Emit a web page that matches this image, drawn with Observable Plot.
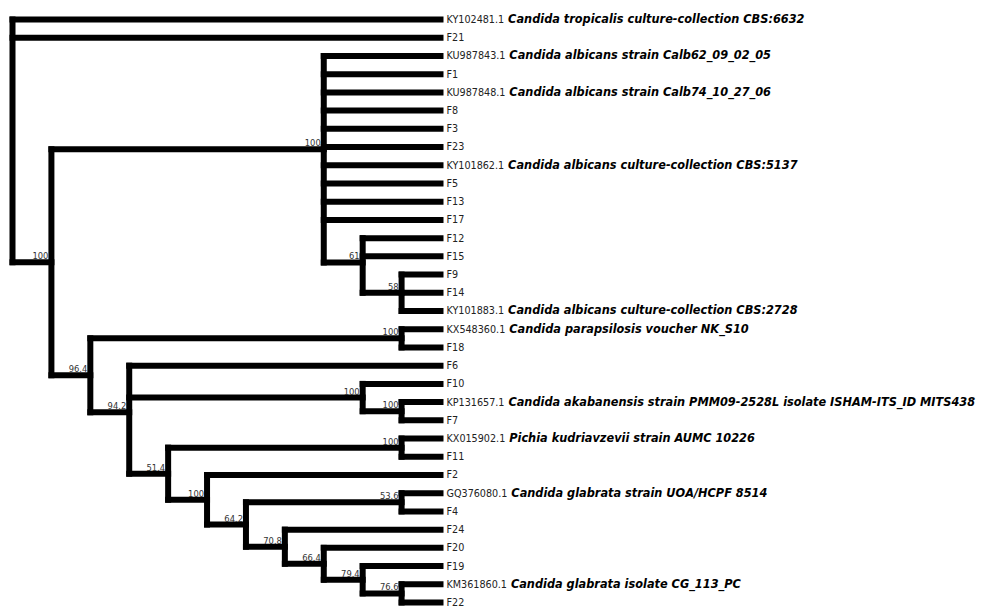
<!DOCTYPE html>
<html>
<head>
<meta charset="utf-8">
<script src="https://cdn.jsdelivr.net/npm/d3@7"></script>
<script src="https://cdn.jsdelivr.net/npm/@observablehq/plot@0.6"></script>
<style>
  html, body { margin: 0; padding: 0; background: #fff; }
  #chart svg { display: block; }
</style>
</head>
<body>
<div id="chart"></div>
<script>
// ---- Data ----
// Leaves in top-to-bottom order
const leafIds = ["KY102481.1","F21","KU987843.1","F1","KU987848.1","F8","F3","F23","KY101862.1","F5","F13","F17","F12","F15","F9","F14","KY101883.1","KX548360.1","F18","F6","F10","KP131657.1","F7","KX015902.1","F11","F2","GQ376080.1","F4","F24","F20","F19","KM361860.1","F22"];
const leafSpecies = ["Candida tropicalis culture-collection CBS:6632","","Candida albicans strain Calb62_09_02_05","","Candida albicans strain Calb74_10_27_06","","","","Candida albicans culture-collection CBS:5137","","","","","","","","Candida albicans culture-collection CBS:2728","Candida parapsilosis voucher NK_S10","","","","Candida akabanensis strain PMM09-2528L isolate ISHAM-ITS_ID MITS438","","Pichia kudriavzevii strain AUMC 10226","","","Candida glabrata strain UOA/HCPF 8514","","","","","Candida glabrata isolate CG_113_PC",""];
const leafParents = ["root","root","alb","alb","alb","alb","alb","alb","alb","alb","alb","alb","n61","n61","n58","n58","n58","np","np","n94","nf10","nkp","nkp","nk","nk","n100b","n53","n53","n70","n66","n79","n76","n76"];
// Internal nodes
const nodeIds     = ["root","n100a","alb","n61","n58","n96","np","n94","nf10","nkp","n51","nk","n100b","n64","n53","n70","n66","n79","n76"];
const nodeParents = [null,"root","n100a","alb","n61","n100a","n96","n96","n94","nf10","n94","n51","n51","n100b","n64","n64","n70","n66","n79"];
const nodeSupport = ["","100","100","61","58","96.4","100","94.2","100","100","51.4","100","100","64.2","53.6","70.8","66.4","79.4","76.6"];

// ---- Layout (cladogram: x = node height, y = mean of children) ----
const nodes = new Map();
nodeIds.forEach((id, i) => nodes.set(id, {id, parent: nodeParents[i], support: nodeSupport[i], children: [], leaf: false}));
leafIds.forEach((id, i) => nodes.set("leaf:" + id, {id, parent: leafParents[i], species: leafSpecies[i], children: [], leaf: true, h: 0, yi: i}));
for (const n of nodes.values()) if (n.parent) nodes.get(n.parent).children.push(n);
function layout(n) {
  if (n.leaf) return n;
  n.children.forEach(layout);
  n.h = 1 + d3.max(n.children, c => c.h);
  n.yi = d3.mean(n.children, c => c.yi);
  return n;
}
const root = layout(nodes.get("root"));
const maxH = root.h;

// horizontal branches (parent x -> child x at child y) and vertical connectors
const hLinks = [];
const vLinks = [];
for (const n of nodes.values()) {
  if (n.parent) {
    const p = nodes.get(n.parent);
    hLinks.push({x1: p.h, x2: n.h, y: n.yi});
  }
  if (!n.leaf) {
    const [y1, y2] = d3.extent(n.children, c => c.yi);
    vLinks.push({x: n.h, y1, y2});
  }
}
const leaves = leafIds.map(id => nodes.get("leaf:" + id));
const internals = nodeIds.map(id => nodes.get(id)).filter(n => n.support);

const FONT = "'DejaVu Sans Condensed', 'DejaVu Sans', sans-serif";

const chart = Plot.plot({
  width: 981,
  height: 606,
  margin: 0,
  style: {fontFamily: FONT, background: "#fff"},
  x: {type: "linear", domain: [maxH, 0], range: [12, 440], axis: null},
  y: {type: "linear", domain: [0, leafIds.length - 1], range: [19, 602], axis: null},
  marks: [
    Plot.link(hLinks, {x1: "x1", x2: "x2", y1: "y", y2: "y", stroke: "#000", strokeWidth: 6, strokeLinecap: "square"}),
    Plot.link(vLinks, {x1: "x", x2: "x", y1: "y1", y2: "y2", stroke: "#000", strokeWidth: 6, strokeLinecap: "square"}),
    Plot.text(internals, {x: "h", y: "yi", text: "support", textAnchor: "end", lineAnchor: "bottom", dx: -3, dy: -3, fontSize: 9.3, fill: "#333"}),
    Plot.text(leaves, {x: "h", y: "yi", text: d => d.species ? d.id + " " + d.species : d.id, textAnchor: "start", dx: 6, fontSize: 10.7, fill: "#222"})
  ]
});

document.getElementById("chart").appendChild(chart);

// Split accession / species into two styled tspans
const ns = "http://www.w3.org/2000/svg";
const textGroups = chart.querySelectorAll('g[aria-label="text"]');
const leafGroup = textGroups[textGroups.length - 1];
leafGroup.querySelectorAll("text").forEach((el, i) => {
  const d = leaves[i];
  if (!d || !d.species) return;
  el.textContent = "";
  const t1 = document.createElementNS(ns, "tspan");
  t1.textContent = d.id;
  const t2 = document.createElementNS(ns, "tspan");
  t2.textContent = " " + d.species;
  t2.setAttribute("font-weight", "bold");
  t2.setAttribute("font-style", "italic");
  t2.setAttribute("font-size", "12.6");
  t2.setAttribute("fill", "#000");
  el.appendChild(t1);
  el.appendChild(t2);
});
</script>
</body>
</html>
